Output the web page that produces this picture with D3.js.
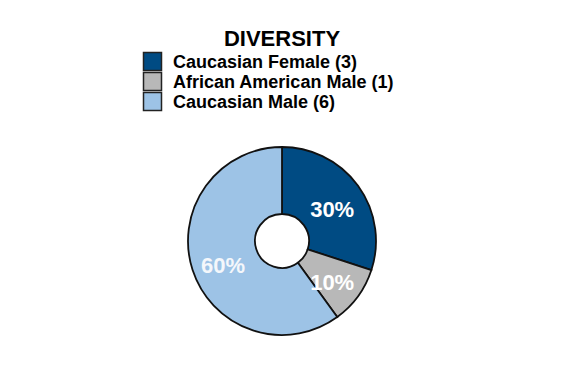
<!DOCTYPE html>
<html>
<head>
<meta charset="utf-8">
<script src="https://cdn.jsdelivr.net/npm/d3@7"></script>
<style>
  body { margin: 0; background: #fff; }
  text { font-family: "Liberation Sans", Arial, sans-serif; font-weight: bold; }
</style>
</head>
<body>
<svg id="chart"></svg>
<script>
const categories = ['Caucasian Female', 'African American Male', 'Caucasian Male'];
const counts = [3, 1, 6];
const colors = ['#004b83', '#b8b8b8', '#9dc3e6'];

const width = 564;
const height = 386;

const svg = d3.select('#chart')
    .attr('width', width)
    .attr('height', height);

const total = d3.sum(counts);
const data = categories.map((c, i) => ({ name: c, value: counts[i], color: colors[i] }));

// title + legend
svg.append('text')
    .attr('x', 282)
    .attr('y', 46)
    .attr('text-anchor', 'middle')
    .attr('font-size', 22)
    .text('DIVERSITY');

const legend = svg.append('g').attr('transform', 'translate(143,52)');
const rows = legend.selectAll('.row')
    .data(data)
    .enter().append('g')
    .attr('class', 'row')
    .attr('transform', (d, i) => `translate(0,${i * 20})`);

rows.append('rect')
    .attr('x', 0.5)
    .attr('y', 0.5)
    .attr('width', 18)
    .attr('height', 18)
    .attr('fill', d => d.color)
    .attr('stroke', '#222')
    .attr('stroke-width', 1.5);

rows.append('text')
    .attr('x', 30)
    .attr('y', 16)
    .attr('font-size', 18)
    .text(d => `${d.name} (${d.value})`);

// donut
const cx = 282, cy = 241;
const outer = 94, inner = 27;

const pie = d3.pie().sort(null).value(d => d.value);
const arc = d3.arc().innerRadius(inner).outerRadius(outer);
const labelArc = d3.arc().innerRadius(62).outerRadius(62);

const g = svg.append('g').attr('transform', `translate(${cx},${cy})`);

g.selectAll('.slice')
    .data(pie(data))
    .enter().append('path')
    .attr('class', 'slice')
    .attr('d', arc)
    .attr('fill', d => d.data.color)
    .attr('stroke', '#111')
    .attr('stroke-width', 1.8);

g.selectAll('.label')
    .data(pie(data))
    .enter().append('text')
    .attr('class', 'label')
    .attr('transform', d => {
        const [x, y] = labelArc.centroid(d);
        return `translate(${x},${y + 5})`;
    })
    .attr('text-anchor', 'middle')
    .attr('dy', '0.36em')
    .attr('font-size', 22)
    .attr('fill', (d, i) => i === 2 ? '#f4f7fb' : '#fff')
    .text(d => Math.round(d.value / total * 100) + '%');
</script>
</body>
</html>
